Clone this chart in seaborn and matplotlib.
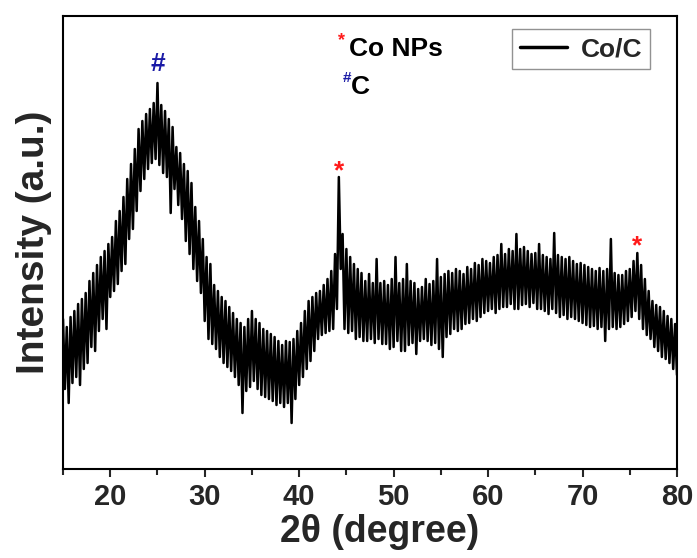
import matplotlib
matplotlib.use('Agg')
import matplotlib.pyplot as plt
import numpy as np
import pandas as pd
import seaborn as sns

# XRD pattern of Co/C, 2theta in 0.2 deg steps from 15 to 80 (intensity in arbitrary units)
two_theta_start = 15.0
two_theta_step = 0.2
intensity = [
    150, 80, 142, 66, 152,     # 15
    86, 158, 92, 165, 84,      # 16
    170, 100, 176, 106, 188,   # 17
    122, 196, 118, 204, 138,   # 18
    212, 150, 218, 140, 225,   # 19
    172, 232, 178, 248, 185,   # 20
    258, 198, 272, 205, 290,   # 21
    230, 305, 240, 320, 258,   # 22
    340, 278, 348, 290, 355,   # 23
    300, 360, 306, 366, 310,   # 24
    386, 304, 364, 296, 358,   # 25
    292, 350, 256, 342, 280,   # 26
    322, 264, 316, 250, 305,   # 27
    228, 298, 215, 286, 200,   # 28
    262, 188, 248, 176, 230,   # 29
    148, 212, 130, 205, 125,   # 30
    184, 120, 178, 112, 172,   # 31
    106, 168, 102, 162, 98,    # 32
    156, 92, 150, 84, 146,     # 33
    56, 142, 78, 150, 82,      # 34
    158, 88, 150, 80, 146,     # 35
    74, 140, 72, 138, 70,      # 36
    135, 68, 132, 64, 128,     # 37
    66, 124, 62, 128, 66,      # 38
    127, 46, 130, 70, 138,     # 39
    84, 146, 92, 158, 100,     # 40
    168, 108, 172, 118, 176,   # 41
    130, 178, 134, 184, 136,   # 42
    190, 138, 198, 140, 215,   # 43
    160, 292, 200, 235, 140,   # 44
    220, 136, 212, 138, 205,   # 45
    130, 200, 132, 196, 128,   # 46
    188, 128, 195, 130, 186,   # 47
    126, 210, 130, 186, 125,   # 48
    188, 125, 184, 120, 190,   # 49
    122, 212, 128, 186, 118,   # 50
    190, 118, 205, 124, 188,   # 51
    126, 186, 115, 180, 128,   # 52
    182, 130, 190, 128, 185,   # 53
    124, 188, 126, 210, 120,   # 54
    192, 112, 195, 132, 198,   # 55
    135, 196, 140, 200, 138,   # 56
    198, 140, 195, 145, 202,   # 57
    146, 200, 150, 206, 148,   # 58
    204, 152, 210, 156, 208,   # 59
    158, 206, 160, 212, 156,   # 60
    214, 160, 225, 162, 215,   # 61
    162, 220, 165, 218, 160,   # 62
    235, 160, 220, 164, 222,   # 63
    165, 218, 162, 215, 166,   # 64
    216, 160, 225, 160, 214,   # 65
    158, 212, 155, 210, 160,   # 66
    236, 156, 214, 152, 212,   # 67
    154, 210, 150, 212, 152,   # 68
    208, 150, 205, 148, 206,   # 69
    146, 204, 144, 202, 142,   # 70
    200, 143, 198, 140, 201,   # 71
    142, 198, 128, 200, 140,   # 72
    230, 142, 196, 140, 194,   # 73
    142, 194, 145, 198, 148,   # 74
    200, 152, 208, 158, 216,   # 75
    150, 204, 140, 190, 134,   # 76
    178, 130, 168, 122, 164,   # 77
    118, 162, 112, 158, 110,   # 78
    153, 106, 150, 100, 145,   # 79
    94,                        # 80
]
two_theta = two_theta_start + two_theta_step * np.arange(len(intensity))

df = pd.DataFrame({'two_theta': two_theta, 'intensity': intensity})

sns.set_style('ticks')
plt.rcParams['font.family'] = ['Liberation Sans', 'DejaVu Sans']
plt.rcParams['font.weight'] = 'bold'

red = '#ff1a1a'
blue = '#1a1aa6'

fig = plt.figure(figsize=(6.97, 5.58), dpi=100)
ax = fig.add_axes([0.0904, 0.1595, 0.8809, 0.8118])

sns.lineplot(data=df, x='two_theta', y='intensity', color='black',
             linewidth=1.8, label='Co/C', ax=ax, estimator=None, sort=False)

ax.set_xlim(15, 80)
ax.set_ylim(0, 453)
ax.set_xticks([20, 30, 40, 50, 60, 70, 80])
ax.set_xticks([15, 25, 35, 45, 55, 65, 75], minor=True)
ax.set_yticks([])
ax.tick_params(axis='x', which='major', direction='out', length=6, width=1.5,
               labelsize=21, pad=4)
ax.tick_params(axis='x', which='minor', direction='out', length=4, width=1.5)
for sp in ax.spines.values():
    sp.set_linewidth(1.5)
    sp.set_color('black')

ax.set_xlabel('2\u03b8 (degree)', fontsize=27, fontweight='bold')
ax.xaxis.set_label_coords(0.515, -0.1)
ax.set_ylabel('Intensity (a.u.)', fontsize=28, fontweight='bold', labelpad=8)

# peak markers
ax.text(25.0, 393, '#', color=blue, fontsize=19, fontweight='bold',
        ha='center', va='bottom')
ax.text(44.2, 286, '*', color=red, fontsize=19, fontweight='bold',
        ha='center', va='bottom')
ax.text(75.8, 211, '*', color=red, fontsize=19, fontweight='bold',
        ha='center', va='bottom')

# phase key
ax.text(44.9, 420, '*', color=red, fontsize=13, fontweight='bold',
        ha='right', va='bottom')
ax.text(45.3, 420, 'Co NPs', color='black', fontsize=19, fontweight='bold',
        ha='left', va='center')
ax.text(45.5, 384, '#', color=blue, fontsize=11, fontweight='bold',
        ha='right', va='bottom')
ax.text(45.5, 382, 'C', color='black', fontsize=19, fontweight='bold',
        ha='left', va='center')

leg = ax.legend(loc='upper right', bbox_to_anchor=(0.956, 0.971),
                fontsize=19, frameon=True, fancybox=False, handlelength=1.8,
                handletextpad=0.5, borderpad=0.3, borderaxespad=0)
leg.get_frame().set_edgecolor('#777777')
leg.get_frame().set_linewidth(1.0)
for line in leg.get_lines():
    line.set_linewidth(2.5)

fig.savefig('out.png', dpi=100)
